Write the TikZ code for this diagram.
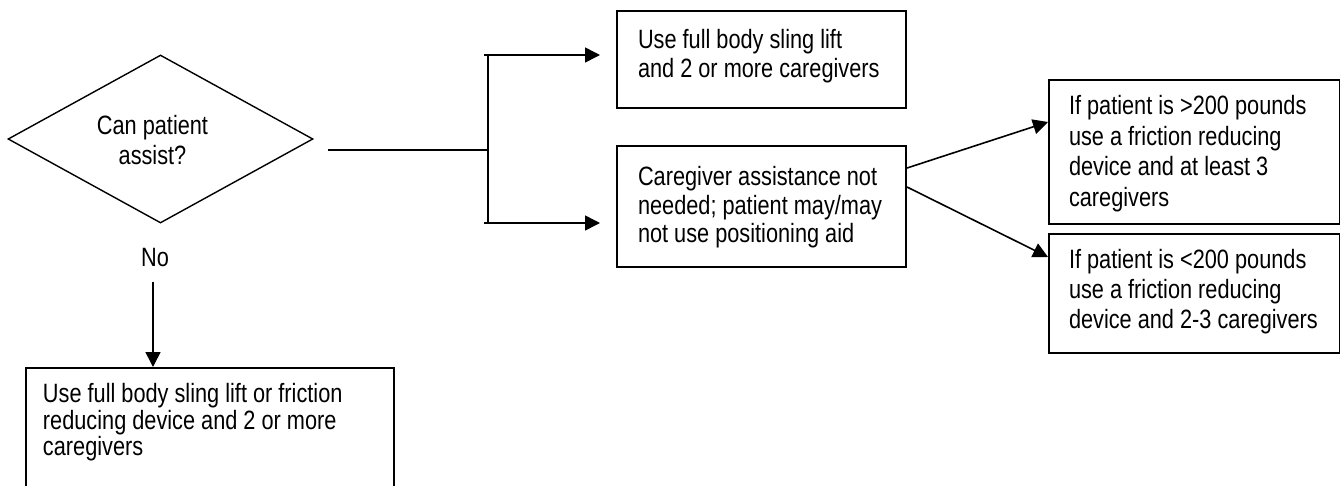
\documentclass[tikz,border=0pt]{standalone}
\usepackage{fontspec}
\setmainfont{Liberation Sans}[FakeStretch=0.82]
\usetikzlibrary{arrows.meta,shapes.geometric,calc}
% width, height, top pad, left pad, baselineskip, text
\newcommand\boxtxt[6]{\parbox[c][#2][t]{#1}{\fontsize{26.5pt}{#5}\selectfont\raggedright\leftskip=#4\relax\vspace*{#3}#6}}
\tikzset{
  box/.style={draw, line width=2pt, inner sep=0pt, anchor=north west},
  decision/.style={draw, diamond, line width=1.4pt, inner sep=0pt},
  conn/.style={line width=1.6pt},
  arr/.style={line width=1.6pt, -{Triangle[length=15pt,width=15pt]}},
  lbl/.style={inner sep=0pt, font=\fontsize{26.5pt}{30pt}\selectfont, align=center}
}
\begin{document}
\begin{tikzpicture}[x=1pt,y=-1pt]
\useasboundingbox (0,0) rectangle (1340,485);
\clip (0,0) rectangle (1340,485);
\fill[white] (0,0) rectangle (1340,485);

\node[decision, minimum width=305pt, minimum height=168pt,
  label={[lbl, xshift=-8pt, yshift=-1.3pt]center:Can patient\\assist?}] (d) at (160.5,139) {};
\node[lbl] (no) at (155,257.8) {No};

\node[box] (b1) at (616,10) {\boxtxt{289pt}{97pt}{18.7pt}{21pt}{28.5pt}{Use full body sling lift\\and 2 or more caregivers}};
\node[box] (b2) at (616,145) {\boxtxt{289pt}{121pt}{20.7pt}{21pt}{28.5pt}{Caregiver assistance not\\needed; patient may/may\\not use positioning aid}};
\node[box] (b3) at (1048,79) {\boxtxt{291pt}{144pt}{15.5pt}{20pt}{30.5pt}{If patient is >200 pounds\\use a friction reducing\\device and at least 3\\caregivers}};
\node[box] (b4) at (1048,233) {\boxtxt{291pt}{119pt}{15.7pt}{20pt}{30pt}{If patient is <200 pounds\\use a friction reducing\\device and 2-3 caregivers}};
\node[box] (b5) at (25,367) {\boxtxt{368pt}{140pt}{15.7pt}{17pt}{26.5pt}{Use full body sling lift or friction\\reducing device and 2 or more\\caregivers}};

% from decision to the bracket
\coordinate (hs) at (328,150);
\coordinate (jt) at (488,55);
\coordinate (jb) at (488,223);
\coordinate (at) at (484,55);
\coordinate (ab) at (484,223);
\draw[conn] (hs) -- (hs -| jt);
\draw[conn] (jt) -- (jb);
\draw[arr] (at) -- ([xshift=-16pt]b1.west |- at);
\draw[arr] (ab) -- ([xshift=-16pt]b2.west |- ab);

% from b2 to b3 / b4
\draw[arr] ($(b2.north east)+(0,23)$) -- ($(b3.north west)+(0,43)$);
\draw[arr] ($(b2.north east)+(0,42)$) -- ($(b4.north west)+(0,24)$);

% No branch
\coordinate (nt) at (153,282);
\draw[arr] (nt) -- (nt |- b5.north);
\end{tikzpicture}
\end{document}
